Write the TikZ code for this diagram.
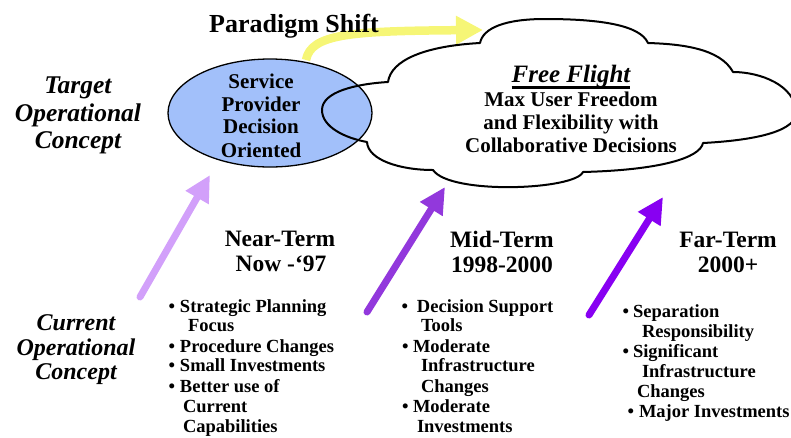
\documentclass[tikz,border=0pt]{standalone}
\usepackage{fontspec}
\setmainfont{Liberation Serif}
\usetikzlibrary{arrows.meta,shapes.geometric}
\definecolor{ellfill}{RGB}{162,192,250}
\definecolor{shiftyellow}{RGB}{246,246,118}
\definecolor{nearpurple}{RGB}{210,160,250}
\definecolor{midpurple}{RGB}{146,56,220}
\definecolor{farpurple}{RGB}{136,0,242}
\newcommand\bul[1]{\llap{•\hspace{#1}}}
\begin{document}
\begin{tikzpicture}[x=1pt,y=1pt,
  base/.style={inner sep=0pt, outer sep=0pt, anchor=base},
  title/.style={base, font=\bfseries\fontsize{26}{28}\selectfont},
  sidetxt/.style={base, font=\bfseries\itshape\fontsize{25.5}{28}\selectfont},
  sidetxtb/.style={base, font=\bfseries\itshape\fontsize{24}{26}\selectfont},
  elltxt/.style={base, font=\bfseries\fontsize{21}{23}\selectfont},
  cloudtxt/.style={base, font=\bfseries\fontsize{21}{23}\selectfont},
  fftxt/.style={base, font=\bfseries\itshape\fontsize{25}{27}\selectfont},
  termtxt/.style={base, font=\bfseries\fontsize{23.5}{25}\selectfont},
  bultxt/.style={inner sep=0pt, outer sep=0pt, anchor=base west, font=\bfseries\fontsize{18.5}{20}\selectfont},
  uparrow/.style={line width=7pt, line cap=round, -{Triangle[length=26pt,width=25pt]}},
  cloudline/.style={line width=2pt, line join=round},
]
\useasboundingbox (0,0) rectangle (791,-437);
\clip (0,0) rectangle (791,-437);

% yellow paradigm shift arrow
\coordinate (ys) at (306,-60);
\coordinate (ye) at (483,-30);
\draw[shiftyellow, line width=8.5pt, -{Triangle[length=27pt,width=27pt]}]
  (ys) .. controls (311,-34) and (350,-31) .. (ye);

% ellipse
\node[draw=black, line width=1.3pt, fill=ellfill, ellipse, minimum width=204pt, minimum height=108pt, inner sep=0pt] (ell) at (270,-113) {};

% cloud outline
\draw[cloudline] (388,-82)
  .. controls (391,-60) and (425,-46) .. (480,-43)
  .. controls (483,-28) and (505,-19) .. (545,-19)
  .. controls (600,-19) and (640,-25) .. (648,-43)
  .. controls (680,-44) and (720,-48) .. (733,-72)
  .. controls (760,-72) and (795,-85) .. (796,-112)
  .. controls (797,-130) and (760,-140) .. (703,-143)
  .. controls (700,-158) and (660,-170) .. (583,-172)
  .. controls (575,-190) and (450,-195) .. (433,-170)
  .. controls (400,-170) and (368,-160) .. (367,-142)
  .. controls (345,-138) and (322,-127) .. (322,-110)
  .. controls (322,-92) and (355,-84) .. cycle;

% title
\node[title] (ps) at (294,-32) {Paradigm Shift};

% side labels
\node[sidetxt] (t1) at (78,-93) {Target};
\node[sidetxt] (t2) at (78,-121) {Operational};
\node[sidetxt] (t3) at (78,-148) {Concept};
\node[sidetxtb] (c1) at (76,-330) {Current};
\node[sidetxtb] (c2) at (76,-355) {Operational};
\node[sidetxtb] (c3) at (76,-379) {Concept};

% ellipse text
\node[elltxt] (e1) at (261,-88) {Service};
\node[elltxt] (e2) at (261,-111) {Provider};
\node[elltxt] (e3) at (261,-133) {Decision};
\node[elltxt] (e4) at (261,-157) {Oriented};

% cloud text
\node[fftxt] (ff) at (571,-82) {Free Flight};
\draw[line width=2.6pt] ([yshift=-5.5pt]ff.base west) -- ([yshift=-5.5pt]ff.base east);
\node[cloudtxt] (f1) at (571,-106) {Max User Freedom};
\node[cloudtxt] (f2) at (571,-129) {and Flexibility with};
\node[cloudtxt] (f3) at (571,-152) {Collaborative Decisions};

% term headings
\node[termtxt] (n1) at (280,-246) {Near-Term};
\node[termtxt] (n2) at (281,-271) {Now -‘97};
\node[termtxt] (m1) at (502,-247) {Mid-Term};
\node[termtxt] (m2) at (502,-272) {1998-2000};
\node[termtxt] (r1) at (728,-247) {Far-Term};
\node[termtxt] (r2) at (728,-272) {2000+};

% near bullets
\node[bultxt] (nb1) at (180,-312) {\bul{5pt}Strategic Planning};
\node[bultxt] (nb2) at (188,-331) {Focus};
\node[bultxt] (nb3) at (180,-352) {\bul{5pt}Procedure Changes};
\node[bultxt] (nb4) at (180,-371) {\bul{5pt}Small Investments};
\node[bultxt] (nb5) at (180,-392) {\bul{5pt}Better use of};
\node[bultxt] (nb6) at (183,-412) {Current};
\node[bultxt] (nb7) at (183,-432) {Capabilities};

% mid bullets
\node[bultxt] (mb1) at (417,-312) {\bul{9pt}Decision Support};
\node[bultxt] (mb2) at (421,-331) {Tools};
\node[bultxt] (mb3) at (413,-352) {\bul{4.5pt}Moderate};
\node[bultxt] (mb4) at (421,-371) {Infrastructure};
\node[bultxt] (mb5) at (421,-392) {Changes};
\node[bultxt] (mb6) at (413,-412) {\bul{4.5pt}Moderate};
\node[bultxt] (mb7) at (417,-432) {Investments};

% far bullets
\node[bultxt] (fb1) at (633,-317) {\bul{4pt}Separation};
\node[bultxt] (fb2) at (642,-337) {Responsibility};
\node[bultxt] (fb3) at (633,-357) {\bul{4pt}Significant};
\node[bultxt] (fb4) at (642,-377) {Infrastructure};
\node[bultxt] (fb5) at (637,-397) {Changes};
\node[bultxt] (fb6) at (639,-417) {\bul{5pt}Major Investments};

% upward arrows
\coordinate (a1s) at (140,-297);
\coordinate (a1e) at (210,-175);
\coordinate (a2s) at (367,-312);
\coordinate (a2e) at (445,-187);
\coordinate (a3s) at (589,-315);
\coordinate (a3e) at (663,-197);
\draw[uparrow, nearpurple] (a1s) -- (a1e);
\draw[uparrow, midpurple] (a2s) -- (a2e);
\draw[uparrow, farpurple] (a3s) -- (a3e);
\end{tikzpicture}
\end{document}
